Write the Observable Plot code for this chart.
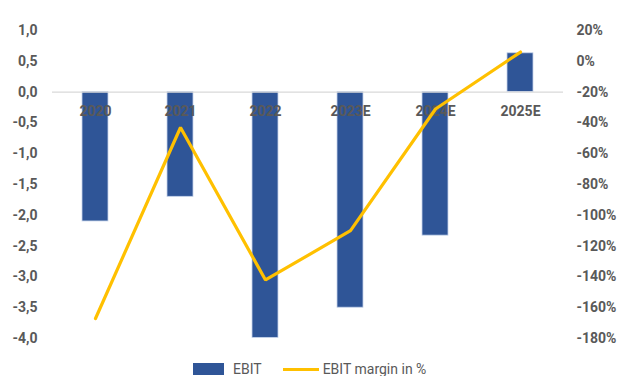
<!DOCTYPE html>
<html>
<head>
<meta charset="utf-8">
<script src="https://cdn.jsdelivr.net/npm/d3@7"></script>
<script src="https://cdn.jsdelivr.net/npm/@observablehq/plot@0.6"></script>
<style>
  html, body { margin: 0; padding: 0; background: #fff; overflow: hidden; }
  body { width: 622px; height: 376px; position: relative; font-family: Roboto, "Liberation Sans", sans-serif; }
  #legend { position: absolute; left: 193px; top: 361px; display: flex; align-items: center; font-size: 14px; color: #595959; white-space: nowrap; }
  .sw { display: inline-block; width: 31px; height: 12px; background: #2F5597; margin-right: 9px; }
  .ln { display: inline-block; width: 36px; height: 3px; background: #FFC000; margin-left: 21px; margin-right: 4px; }
</style>
</head>
<body>
<div id="chart"></div>
<div id="legend"><span class="sw"></span><span>EBIT</span><span class="ln"></span><span>EBIT margin in %</span></div>
<script>
const years = ["2020", "2021", "2022", "2023E", "2024E", "2025E"];
const ebit = [-2.1, -1.7, -3.99, -3.5, -2.33, 0.63];
const margin = [-167, -43, -142, -110, -31, 6];
const leftTicks = [1, 0.5, 0, -0.5, -1, -1.5, -2, -2.5, -3, -3.5, -4];
const rightTicks = [20, 0, -20, -40, -60, -80, -100, -120, -140, -160, -180];

const data = years.map((y, i) => ({year: y, ebit: ebit[i], margin: margin[i]}));
// right axis: 20% <-> 1.0, -180% <-> -4.0
const m2y = m => -4 + (m + 180) / 40;

const chart = Plot.plot({
  width: 622,
  height: 360,
  marginTop: 30,
  marginBottom: 22,
  marginLeft: 52,
  marginRight: 59,
  style: {fontFamily: "Roboto, 'Liberation Sans', sans-serif", fontSize: "14px", color: "#595959", background: "#fff"},
  x: {domain: years, paddingInner: 0.695, paddingOuter: 0.3475, axis: null},
  y: {domain: [-4, 1], axis: null},
  marks: [
    Plot.barY(data, {x: "year", y: "ebit", fill: "#2F5597", stroke: "#c5d3ea", strokeWidth: 0.8}),
    Plot.ruleY([0], {stroke: "#d9d9d9", strokeWidth: 1.2}),
    Plot.text(data, {x: "year", y: () => 0, text: "year", dy: 19, fontWeight: "bold", fontSize: 14, fill: "#595959"}),
    Plot.axisY(leftTicks, {anchor: "left", label: null, tickSize: 0, tickPadding: 15, fontWeight: "bold", fill: "#595959",
      tickFormat: d => d.toFixed(1).replace(".", ",")}),
    Plot.axisY(rightTicks.map(m2y), {anchor: "right", label: null, tickSize: 0, tickPadding: 13, fontWeight: "bold", fill: "#595959",
      tickFormat: d => Math.round((d + 4) * 40 - 180) + "%"}),
    Plot.line(data, {x: "year", y: d => m2y(d.margin), stroke: "#FFC000", strokeWidth: 3.2, strokeLinejoin: "miter", strokeLinecap: "round"})
  ]
});
document.getElementById("chart").append(chart);
</script>
</body>
</html>
